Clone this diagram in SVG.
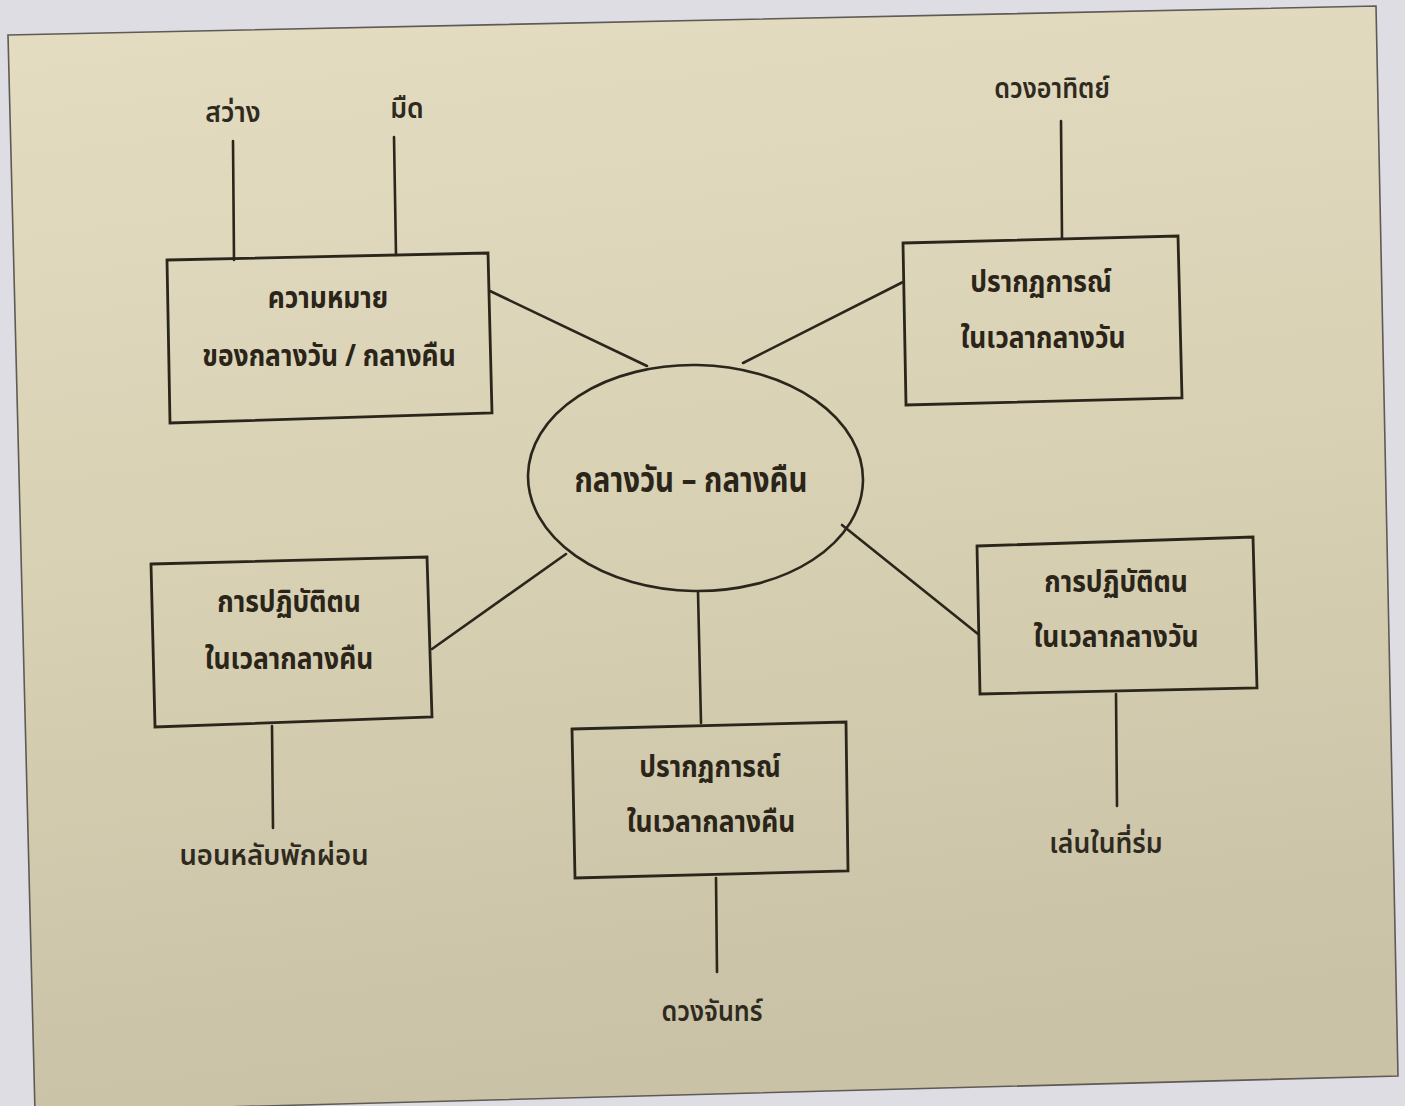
<svg xmlns="http://www.w3.org/2000/svg" width="1405" height="1106" viewBox="0 0 1405 1106">
<style>
.ln{stroke:#2b261c;stroke-width:2.6;fill:none;stroke-linecap:round}
.box{stroke:#2b261c;stroke-width:2.8;fill:none;stroke-linejoin:miter}
.bt{font-family:"Noto Sans","Noto Sans Thai","DejaVu Sans",sans-serif;font-weight:bold;font-size:30px;fill:#2a2419;text-anchor:middle}
.ct{font-family:"Noto Sans","Noto Sans Thai","DejaVu Sans",sans-serif;font-weight:bold;font-size:35px;fill:#2a2419;text-anchor:middle}
.lt{font-family:"Noto Sans","Noto Sans Thai","DejaVu Sans",sans-serif;font-weight:600;font-size:28px;fill:#2f2a20;text-anchor:middle}
</style>
<defs>
<linearGradient id="pg" x1="0" y1="0" x2="0.15" y2="1">
<stop offset="0" stop-color="#e4ddc2"/>
<stop offset="0.5" stop-color="#d8d1b4"/>
<stop offset="1" stop-color="#c9c2a6"/>
</linearGradient>
</defs>
<rect x="0" y="0" width="1405" height="1106" fill="#dddde3"/>
<polygon points="8,35 1376,6 1398,1076 35,1112" fill="url(#pg)" stroke="#5e5a55" stroke-width="1.6"/>

<g id="connectors">
<line class="ln" x1="233" y1="141" x2="234" y2="260"/>
<line class="ln" x1="394" y1="137" x2="396" y2="255"/>
<line class="ln" x1="1061" y1="121" x2="1062" y2="238"/>
<line class="ln" x1="490" y1="291" x2="647" y2="366"/>
<line class="ln" x1="743" y1="363" x2="903" y2="282"/>
<line class="ln" x1="566" y1="554" x2="432" y2="649"/>
<line class="ln" x1="842" y1="525" x2="978" y2="634"/>
<line class="ln" x1="698" y1="592" x2="701" y2="723"/>
<line class="ln" x1="272" y1="726" x2="273" y2="828"/>
<line class="ln" x1="716" y1="878" x2="717" y2="972"/>
<line class="ln" x1="1116" y1="694" x2="1117" y2="806"/>
</g>

<g id="center">
<ellipse cx="695.5" cy="478" rx="167.5" ry="113" fill="none" stroke="#2b261c" stroke-width="2.6" transform="rotate(1 695 478)"/>
<text class="ct" transform="translate(691 492) scale(0.84 1)">กลางวัน – กลางคืน</text>
</g>

<g id="meaning">
<polygon class="box" points="167,260 488,253 492,413 170,423"/>
<text class="bt" transform="translate(328 308) scale(0.88 1)">ความหมาย</text>
<text class="bt" transform="translate(329 366) scale(0.88 1)">ของกลางวัน / กลางคืน</text>
</g>

<g id="day-phenomena">
<polygon class="box" points="903,243 1178,236 1182,398 906,405"/>
<text class="bt" transform="translate(1041 292) scale(0.88 1)">ปรากฏการณ์</text>
<text class="bt" transform="translate(1043 348) scale(0.88 1)">ในเวลากลางวัน</text>
</g>

<g id="night-practice">
<polygon class="box" points="151,564 427,557 432,717 155,727"/>
<text class="bt" transform="translate(289 612) scale(0.88 1)">การปฏิบัติตน</text>
<text class="bt" transform="translate(289 669) scale(0.88 1)">ในเวลากลางคืน</text>
</g>

<g id="night-phenomena">
<polygon class="box" points="572,729 846,722 848,871 575,878"/>
<text class="bt" transform="translate(710 777) scale(0.88 1)">ปรากฏการณ์</text>
<text class="bt" transform="translate(711 832) scale(0.88 1)">ในเวลากลางคืน</text>
</g>

<g id="day-practice">
<polygon class="box" points="977,546 1253,537 1257,688 980,694"/>
<text class="bt" transform="translate(1116 592) scale(0.88 1)">การปฏิบัติตน</text>
<text class="bt" transform="translate(1116 647) scale(0.88 1)">ในเวลากลางวัน</text>
</g>

<g id="light"><text class="lt" transform="translate(233 122) scale(0.95 1)">สว่าง</text></g>
<g id="dark"><text class="lt" transform="translate(407 118) scale(0.95 1)">มืด</text></g>
<g id="sun"><text class="lt" transform="translate(1052 98) scale(0.9 1)">ดวงอาทิตย์</text></g>
<g id="sleep"><text class="lt" transform="translate(274 865) scale(0.98 1)">นอนหลับพักผ่อน</text></g>
<g id="moon"><text class="lt" transform="translate(712 1021) scale(0.9 1)">ดวงจันทร์</text></g>
<g id="play"><text class="lt" transform="translate(1106 853) scale(0.95 1)">เล่นในที่ร่ม</text></g>
</svg>
